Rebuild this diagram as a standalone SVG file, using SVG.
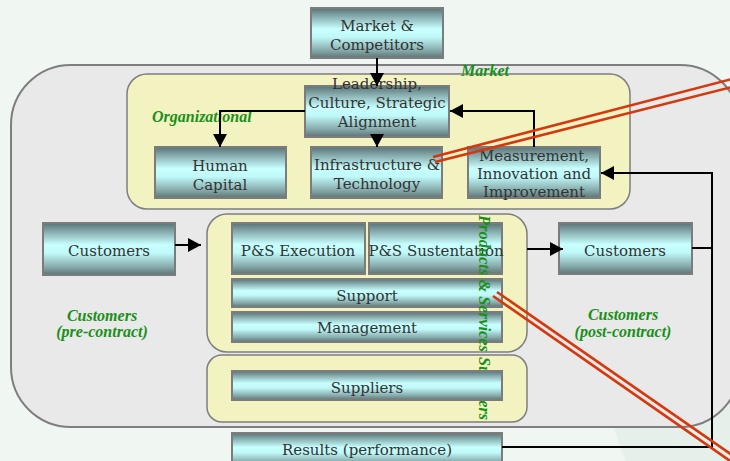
<svg xmlns="http://www.w3.org/2000/svg" width="730" height="461" viewBox="0 0 730 461">
  <defs>
    <linearGradient id="boxFill" x1="0" y1="0" x2="0" y2="1">
      <stop offset="0" stop-color="#587274"/>
      <stop offset="0.15" stop-color="#82a6a8"/>
      <stop offset="0.42" stop-color="#c8ffff"/>
      <stop offset="0.58" stop-color="#c0f9f9"/>
      <stop offset="0.85" stop-color="#86a9aa"/>
      <stop offset="1" stop-color="#5c7474"/>
    </linearGradient>
    <marker id="arrow" viewBox="0 0 13 14" refX="13" refY="7" markerWidth="13" markerHeight="14" markerUnits="userSpaceOnUse" orient="auto">
      <path d="M0,0 L13,7 L0,14 Z" fill="#000"/>
    </marker>
    <style>
      .box { fill: url(#boxFill); stroke: #7c7c7c; stroke-width: 2; }
      .zone { fill: #f3f3c1; stroke: #7e7e7e; stroke-width: 1.5; }
      .lbl { font-family: "DejaVu Serif", serif; font-size: 15px; fill: #333; text-anchor: middle; }
      .tag { font-family: "Liberation Serif", serif; font-size: 16px; font-weight: bold; font-style: italic; fill: #1a8f1a; }
      .mid { text-anchor: middle; }
      .wire { fill: none; stroke: #000; stroke-width: 2; }
      .red { fill: none; stroke: #d5380e; stroke-width: 2.6; }
    </style>
  </defs>

  <!-- page background -->
  <rect x="0" y="0" width="730" height="461" fill="#f0f6f2"/>
  <ellipse cx="690" cy="320" rx="90" ry="200" fill="#dbeae1" opacity="0.5"/>

  <!-- enclosing market area -->
  <rect x="11" y="65" width="729" height="362" rx="60" ry="60" fill="#e8e9e8" stroke="#7e7e7e" stroke-width="2"/>

  <!-- zones -->
  <rect class="zone" x="127" y="74" width="503" height="135" rx="20" ry="20"/>
  <rect class="zone" x="207" y="214" width="320" height="138" rx="20" ry="20"/>
  <rect class="zone" x="207" y="355" width="320" height="67" rx="15" ry="15"/>

  <!-- zone labels -->
  <text class="tag" x="461" y="76">Market</text>
  <text class="tag" x="152" y="122">Organizational</text>
  <text class="tag mid" x="102" y="321">Customers</text>
  <text class="tag mid" x="102" y="337">(pre-contract)</text>
  <text class="tag mid" x="623" y="320">Customers</text>
  <text class="tag mid" x="623" y="337">(post-contract)</text>

  <!-- vertical label beneath the suppliers box -->
  <text class="tag" transform="translate(479,357) rotate(90)" textLength="63" lengthAdjust="spacingAndGlyphs">Suppliers</text>

  <!-- nodes -->
  <g id="market-competitors">
    <rect class="box" x="311" y="8" width="132" height="50"/>
    <text class="lbl" x="377" y="31">Market &amp;</text>
    <text class="lbl" x="377" y="50">Competitors</text>
  </g>
  <g id="leadership">
    <rect class="box" x="305" y="86" width="144" height="51"/>
    <text class="lbl" x="377" y="89">Leadership,</text>
    <text class="lbl" x="377" y="108">Culture, Strategic</text>
    <text class="lbl" x="377" y="127">Alignment</text>
  </g>
  <g id="human-capital">
    <rect class="box" x="155" y="147" width="131" height="51"/>
    <text class="lbl" x="220" y="171">Human</text>
    <text class="lbl" x="220" y="190">Capital</text>
  </g>
  <g id="infrastructure">
    <rect class="box" x="311" y="147" width="131" height="51"/>
    <text class="lbl" x="377" y="170">Infrastructure &amp;</text>
    <text class="lbl" x="377" y="189">Technology</text>
  </g>
  <g id="measurement">
    <rect class="box" x="468" y="147" width="132" height="51"/>
    <text class="lbl" x="534" y="161">Measurement,</text>
    <text class="lbl" x="534" y="179">Innovation and</text>
    <text class="lbl" x="534" y="197">Improvement</text>
  </g>
  <g id="customers-pre">
    <rect class="box" x="43" y="223" width="132" height="52"/>
    <text class="lbl" x="109" y="256">Customers</text>
  </g>
  <g id="customers-post">
    <rect class="box" x="559" y="223" width="133" height="51"/>
    <text class="lbl" x="625" y="256">Customers</text>
  </g>
  <g id="ps-execution">
    <rect class="box" x="232" y="223" width="133" height="51"/>
    <text class="lbl" x="298" y="256">P&amp;S Execution</text>
  </g>
  <g id="ps-sustentation">
    <rect class="box" x="369" y="223" width="133" height="51"/>
    <text class="lbl" x="436" y="256">P&amp;S Sustentation</text>
  </g>
  <g id="support">
    <rect class="box" x="232" y="279" width="270" height="28"/>
    <text class="lbl" x="367" y="301">Support</text>
  </g>
  <g id="management">
    <rect class="box" x="232" y="312" width="270" height="30"/>
    <text class="lbl" x="367" y="333">Management</text>
  </g>
  <g id="suppliers">
    <rect class="box" x="232" y="371" width="270" height="29"/>
    <text class="lbl" x="367" y="393">Suppliers</text>
  </g>
  <g id="results">
    <rect class="box" x="232" y="433" width="270" height="34"/>
    <text class="lbl" x="367" y="455">Results (performance)</text>
  </g>

  <!-- vertical label drawn over the product boxes -->
  <text class="tag" transform="translate(479,215) rotate(90)" textLength="137" lengthAdjust="spacingAndGlyphs">Products &amp; Services</text>

  <!-- connectors -->
  <g id="connectors">
    <path class="wire" d="M377,58 V86" marker-end="url(#arrow)"/>
    <path class="wire" d="M305,111 H220 V147" marker-end="url(#arrow)"/>
    <path class="wire" d="M377,137 V147" marker-end="url(#arrow)"/>
    <path class="wire" d="M534,147 V111 H450" marker-end="url(#arrow)"/>
    <path class="wire" d="M175,245 H201" marker-end="url(#arrow)"/>
    <path class="wire" d="M527,249 H563" marker-end="url(#arrow)"/>
    <path class="wire" d="M692,248 H712"/>
    <path class="wire" d="M502,447 H712 V173 H601" marker-end="url(#arrow)"/>
  </g>

  <!-- red double strokes -->
  <g id="strikes">
    <path class="red" d="M433,157 L732,79"/>
    <path class="red" d="M435,162 L732,87"/>
    <path class="red" d="M497,292 L742,462"/>
    <path class="red" d="M493,296 L733,463"/>
  </g>
</svg>
